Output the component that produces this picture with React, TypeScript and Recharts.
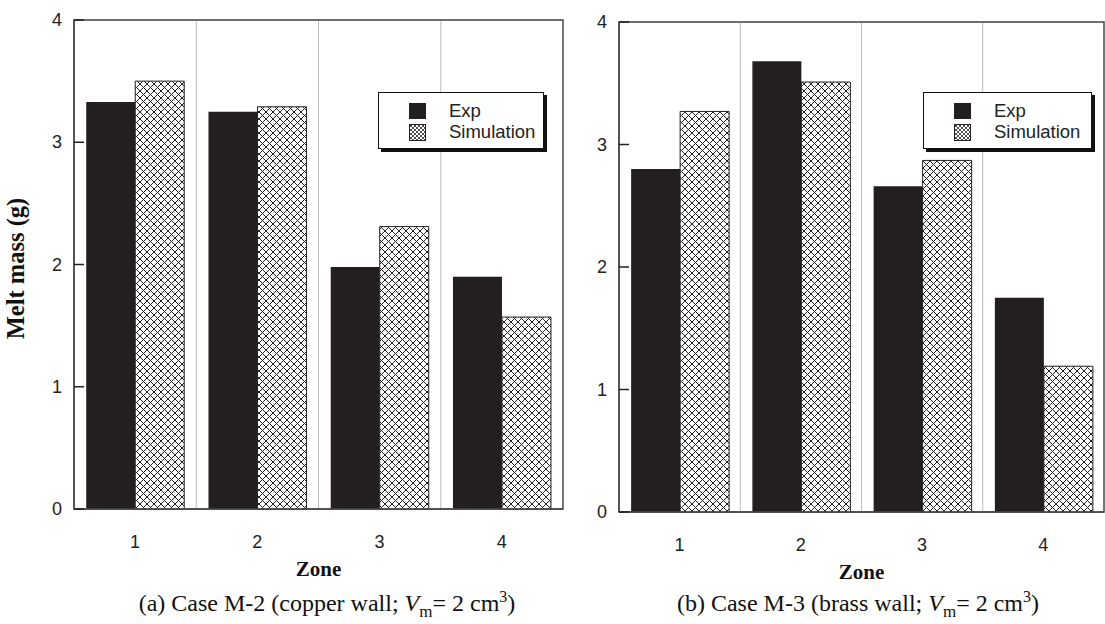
import React from 'react';
import { BarChart, Bar, XAxis, YAxis, CartesianGrid, ReferenceArea, Legend, Label } from 'recharts';

const zones = ['1', '2', '3', '4'];
const expA = [3.33, 3.25, 1.98, 1.9];
const simA = [3.5, 3.29, 2.31, 1.57];
const expB = [2.8, 3.68, 2.66, 1.75];
const simB = [3.27, 3.51, 2.87, 1.19];
const yTicks = [0, 1, 2, 3, 4];
const seriesNames = ['Exp', 'Simulation'];

const dataA = zones.map((z, i) => ({ zone: z, exp: expA[i], sim: simA[i] }));
const dataB = zones.map((z, i) => ({ zone: z, exp: expB[i], sim: simB[i] }));

const SANS = '"Liberation Sans", Arial, sans-serif';
const SERIF = '"Liberation Serif", "Times New Roman", serif';
const FRAME = '#4a4a4a';
const EXPC = '#231f20';

const LeftTick = (props: any) => {
  const { x, y, payload } = props;
  return (
    <g>
      <line x1={x} y1={y} x2={x + 10} y2={y} stroke="#222" strokeWidth={1.5} />
      <text x={x - 12} y={y} dy={6} textAnchor="end" fontFamily={SANS} fontSize={18} fill="#222">
        {payload.value}
      </text>
    </g>
  );
};

const RightTick = (props: any) => {
  const { x, y } = props;
  return <line x1={x} y1={y} x2={x - 10} y2={y} stroke="#222" strokeWidth={1.5} />;
};

const LegendBox = ({ w }: { w: number }) => (
  <div
    style={{
      position: 'absolute',
      left: 0,
      top: 0,
      width: w,
      height: 55,
      border: '1.5px solid #111',
      boxShadow: '3px 3px 0 #111',
      background: '#fff',
      fontFamily: SANS,
      fontSize: 18.5,
      color: '#222',
    }}
  >
    <div style={{ position: 'absolute', left: 30, top: 10, width: 17, height: 16, background: EXPC }} />
    <div style={{ position: 'absolute', left: 70, top: 7, lineHeight: '21px' }}>{seriesNames[0]}</div>
    <svg style={{ position: 'absolute', left: 30, top: 31 }} width={17} height={17}>
      <rect x={0.5} y={0.5} width={16} height={16} fill="url(#xhatchSmall)" stroke="#222" strokeWidth={1} />
    </svg>
    <div style={{ position: 'absolute', left: 70, top: 28, lineHeight: '21px' }}>{seriesNames[1]}</div>
  </div>
);

const vGen = (p: any) => {
  const o = p.offset;
  return [1, 2, 3].map((i) => o.left + (i * o.width) / zones.length);
};

function Panel({ data, top, bottom, rightMargin, width, showY, legendW }: any) {
  return (
    <BarChart
      width={width}
      height={624}
      data={data}
      margin={{ top, right: rightMargin, left: 0, bottom }}
      barCategoryGap="10%"
      barGap={0}
    >
      <CartesianGrid stroke="#bdbdbd" strokeWidth={1} verticalCoordinatesGenerator={vGen} />
      <XAxis
        dataKey="zone"
        height={70}
        axisLine={{ stroke: FRAME, strokeWidth: 1.5 }}
        tickLine={false}
        tickMargin={20}
        tick={{ fontFamily: SANS, fontSize: 18, fill: '#222' }}
      >
        <Label
          content={(p: any) => {
            const vb = p.viewBox;
            return (
              <text
                x={vb.x + vb.width / 2}
                y={vb.y + 67}
                textAnchor="middle"
                fontFamily={SERIF}
                fontWeight="bold"
                fontSize={21}
                fill="#111"
              >
                Zone
              </text>
            );
          }}
        />
      </XAxis>
      <YAxis
        yAxisId="left"
        width={74}
        domain={[0, 4]}
        ticks={yTicks}
        type="number"
        tickLine={false}
        tickSize={0}
        tickMargin={0}
        axisLine={{ stroke: FRAME, strokeWidth: 1.5 }}
        tick={<LeftTick />}
      >
        {showY ? (
          <Label
            content={(p: any) => {
              const vb = p.viewBox;
              const cx = vb.x + 24;
              const cy = vb.y + vb.height / 2 + 4;
              return (
                <text
                  x={cx}
                  y={cy}
                  textAnchor="middle"
                  transform={`rotate(-90 ${cx} ${cy})`}
                  fontFamily={SERIF}
                  fontWeight="bold"
                  fontSize={24.5}
                  fill="#111"
                >
                  Melt mass (g)
                </text>
              );
            }}
          />
        ) : null}
      </YAxis>
      <YAxis
        yAxisId="right"
        orientation="right"
        width={0}
        domain={[0, 4]}
        ticks={yTicks}
        type="number"
        tickLine={false}
        tickSize={0}
        tickMargin={0}
        axisLine={{ stroke: FRAME, strokeWidth: 1.5 }}
        tick={<RightTick />}
      />
      <ReferenceArea yAxisId="left" y1={0} y2={4} fill="none" stroke={FRAME} strokeWidth={1.5} ifOverflow="visible" />
      <Bar yAxisId="left" dataKey="exp" name={seriesNames[0]} fill={EXPC} isAnimationActive={false} />
      <Bar
        yAxisId="right"
        dataKey="sim"
        name={seriesNames[1]}
        fill="url(#xhatch)"
        stroke="#222"
        strokeWidth={1}
        isAnimationActive={false}
      />
      <Legend
        layout="horizontal"
        verticalAlign="top"
        align="left"
        wrapperStyle={{ left: 378, top: 92, width: 0, height: 0, overflow: 'visible' }}
        content={() => <LegendBox w={legendW} />}
      />
    </BarChart>
  );
}

const capStyle: React.CSSProperties = {
  position: 'absolute',
  top: 589,
  width: 440,
  textAlign: 'center',
  fontFamily: SERIF,
  fontSize: 24,
  lineHeight: '28px',
  color: '#111',
  whiteSpace: 'nowrap',
};

export default function App() {
  return (
    <div style={{ position: 'absolute', left: 0, top: 0, width: 1105, height: 624, background: '#fff', overflow: 'hidden' }}>
      <svg width={0} height={0} style={{ position: 'absolute' }}>
        <defs>
          <pattern id="xhatch" width={7} height={7} patternUnits="userSpaceOnUse">
            <rect width={7} height={7} fill="#fff" />
            <path d="M-1,-1 L8,8 M8,-1 L-1,8" stroke="#222" strokeWidth={1} />
          </pattern>
          <pattern id="xhatchSmall" width={4} height={4} patternUnits="userSpaceOnUse">
            <rect width={4} height={4} fill="#fff" />
            <path d="M-1,-1 L5,5 M5,-1 L-1,5" stroke="#222" strokeWidth={0.8} />
          </pattern>
        </defs>
      </svg>
      <div style={{ position: 'absolute', left: 0, top: 0 }}>
        <Panel data={dataA} top={20} bottom={45} rightMargin={7} width={570} showY legendW={164} />
      </div>
      <div style={{ position: 'absolute', left: 545, top: 0 }}>
        <Panel data={dataB} top={22} bottom={42} rightMargin={1} width={560} showY={false} legendW={167} />
      </div>
      <div style={{ ...capStyle, left: 107 }}>
        (a) Case M-2 (copper wall; <i>V</i>
        <sub style={{ fontSize: 17, lineHeight: 0 }}>m</sub>= 2 cm<sup style={{ fontSize: 16, lineHeight: 0 }}>3</sup>)
      </div>
      <div style={{ ...capStyle, left: 638 }}>
        (b) Case M-3 (brass wall; <i>V</i>
        <sub style={{ fontSize: 17, lineHeight: 0 }}>m</sub>= 2 cm<sup style={{ fontSize: 16, lineHeight: 0 }}>3</sup>)
      </div>
    </div>
  );
}
